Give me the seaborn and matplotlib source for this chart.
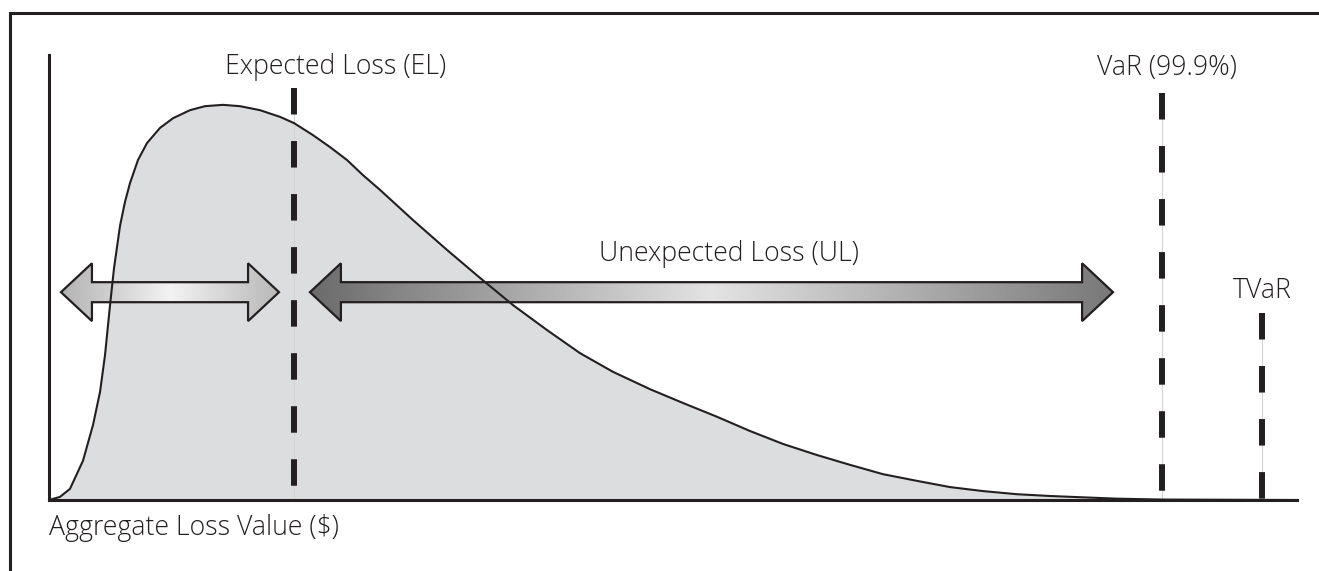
import numpy as np
import pandas as pd
import matplotlib
matplotlib.use("Agg")
import matplotlib.pyplot as plt
import seaborn as sns
from matplotlib.path import Path
from matplotlib.patches import PathPatch, Rectangle

# aggregate loss distribution (x: loss, y: density)
loss_x = [0.0, 0.88, 1.68, 2.72, 3.53, 4.09, 4.49, 4.89, 5.21, 5.69, 6.09,
          6.49, 7.13, 7.85, 8.89, 9.94, 11.30, 12.50, 13.94, 15.30, 16.91,
          18.51, 19.63, 21.15, 22.52, 23.88, 25.16, 26.52, 29.17, 31.89,
          34.54, 37.18, 39.90, 42.55, 45.19, 48.16, 50.80, 53.53, 56.17,
          58.81, 61.54, 64.18, 66.83, 69.55, 72.20, 74.84, 77.56, 80.21,
          82.85, 85.58, 89.18, 100.0]
density = [0.0, 0.007, 0.025, 0.088, 0.169, 0.243, 0.326, 0.438, 0.521,
           0.616, 0.670, 0.712, 0.764, 0.802, 0.836, 0.858, 0.876, 0.885,
           0.888, 0.885, 0.876, 0.861, 0.847, 0.820, 0.793, 0.764, 0.730,
           0.697, 0.629, 0.562, 0.499, 0.438, 0.382, 0.330, 0.288, 0.249,
           0.218, 0.187, 0.155, 0.126, 0.101, 0.079, 0.058, 0.043, 0.029,
           0.020, 0.013, 0.009, 0.006, 0.003, 0.001, 0.0]

# risk measures
measure_names = ["Expected Loss (EL)", "VaR (99.9%)", "TVaR"]
measure_x = [19.63, 89.18, 97.2]
measure_top = [0.926, 0.915, 0.420]

ul_label = "Unexpected Loss (UL)"
x_label = "Aggregate Loss Value ($)"

INK = "#231f20"
FILL = "#dcdddf"

sns.set_theme(style="white")
plt.rcParams["font.family"] = ["Open Sans", "DejaVu Sans"]

W, H = 1319, 571
fig = plt.figure(figsize=(W / 100, H / 100), dpi=100)
ax = fig.add_axes([49 / W, (H - 500) / H, (1297 - 49) / W, 445 / H])
ax.set_xlim(0, 100)
ax.set_ylim(0, 1)

df = pd.DataFrame({"loss": loss_x, "density": density})
ax.fill_between(df["loss"], df["density"], color=FILL, lw=0, zorder=1)
sns.lineplot(data=df, x="loss", y="density", ax=ax, color=INK, lw=1.5,
             zorder=6, sort=False)


def gradient_arrow(x0, x1, yc, stops, head_len=2.48, shaft=0.0225, head=0.065):
    # double headed block arrow filled with a horizontal grey gradient
    verts = [
        (x0, yc), (x0 + head_len, yc + head), (x0 + head_len, yc + shaft),
        (x1 - head_len, yc + shaft), (x1 - head_len, yc + head), (x1, yc),
        (x1 - head_len, yc - head), (x1 - head_len, yc - shaft),
        (x0 + head_len, yc - shaft), (x0 + head_len, yc - head), (x0, yc),
    ]
    codes = [Path.MOVETO] + [Path.LINETO] * (len(verts) - 2) + [Path.CLOSEPOLY]
    patch = PathPatch(Path(verts, codes), facecolor="none", edgecolor=INK,
                      lw=1.6, zorder=5)
    ax.add_patch(patch)
    pos, vals = zip(*stops)
    g = np.interp(np.linspace(0, 1, 400), pos, vals)
    img = np.tile(g, (2, 1))
    im = ax.imshow(img, cmap="gray", vmin=0, vmax=1, aspect="auto",
                   extent=(x0, x1, yc - head, yc + head), zorder=4,
                   interpolation="bilinear")
    im.set_clip_path(patch)


gradient_arrow(0.96, 18.43, 0.467, [(0, 0.70), (0.5, 0.95), (1, 0.72)])
gradient_arrow(20.91, 85.26, 0.467, [(0, 0.42), (0.5, 0.89), (1, 0.47)])

# risk measure markers
for name, mx, top in zip(measure_names, measure_x, measure_top):
    ax.plot([mx, mx], [top, 0], color="#d4d4d4", lw=0.8, zorder=2)
    ax.plot([mx, mx], [top, 0], color=INK, lw=4.3,
            linestyle=(0, (4.44, 4.44)), solid_capstyle="butt",
            dash_capstyle="butt", zorder=3)

ax.set_xlim(0, 100)
ax.set_ylim(0, 1)

txt = dict(color=INK, fontsize=19.2, fontweight="light", clip_on=False)
ax.text(14.1, 0.974, measure_names[0], ha="left", va="center", **txt)
ax.text(measure_x[1] + 0.4, 0.971, measure_names[1], ha="center", va="center", **txt)
ax.text(measure_x[2], 0.470, measure_names[2], ha="center", va="center", **txt)
ax.text(54.5, 0.553, ul_label, ha="center", va="center", **txt)
ax.text(0.0, -0.063, x_label, ha="left", va="center", **txt)

ax.set_xticks([])
ax.set_yticks([])
ax.set_xlabel("")
ax.set_ylabel("")
for side in ["top", "right"]:
    ax.spines[side].set_visible(False)
for side in ["left", "bottom"]:
    ax.spines[side].set_color(INK)
    ax.spines[side].set_linewidth(2.2)
ax.patch.set_alpha(0)

# outer frame, running off the right and bottom edges
fig.patches.append(Rectangle((10 / W, -0.2), 1.2, (H - 13) / H + 0.2,
                             transform=fig.transFigure, fill=False,
                             edgecolor=INK, lw=2.2))

fig.savefig("out.png", dpi=100)
